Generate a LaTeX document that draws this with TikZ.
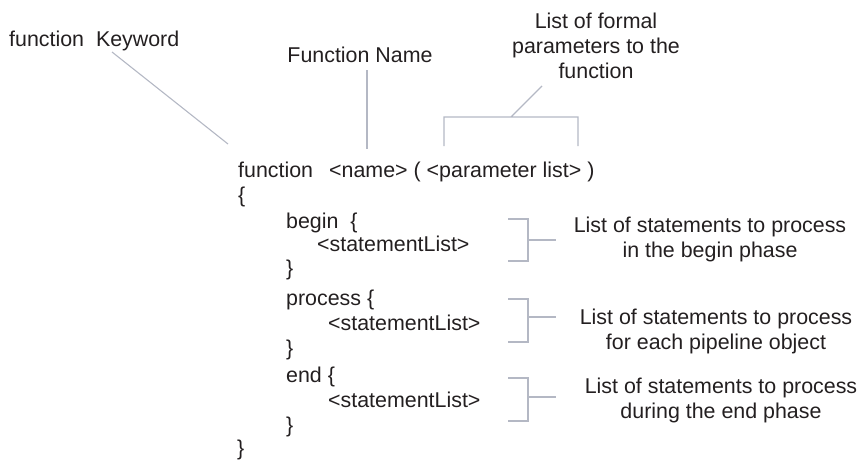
\documentclass[tikz,border=0pt]{standalone}
\usepackage{fontspec}
\setmainfont{Liberation Sans}
\definecolor{ink}{RGB}{35,31,32}
\definecolor{leader}{RGB}{180,184,196}

\begin{document}
\begin{tikzpicture}[x=1pt,y=-1pt,
		every node/.style={font=\fontsize{21.4}{25}\selectfont,text=ink,inner sep=0pt},
		lead/.style={draw=leader,line width=1.1pt}]
		\useasboundingbox (0,0) rectangle (862,461);
		% coordinates
		\coordinate (K1) at (112,52); % keyword leader
		\coordinate (K2) at (228,144);
		\coordinate (N1) at (367,70); % name leader
		\coordinate (N2) at (367,149);
		\coordinate (P1) at (444,146); % parameter bracket
		\coordinate (P2) at (578,146);
		\coordinate (P3) at (511,117);
		\coordinate (P4) at (542,86);
		% labels on top
		\node[anchor=base west] (kwlabel) at (9,46) {function~~Keyword};
		\node[anchor=base] (namelabel) at (360,62) {Function Name};
		\node[align=center] (parlabel) at (596,46) {List of formal\\parameters to the\\function};
		% code
		\node[anchor=base west] (fkw) at (238,177) {function};
		\node[anchor=base west] (fsig) at (329,177) {<name> ( <parameter list> )};
		\node[anchor=base west] (open) at (238,202) {\{};
		\node[anchor=base west] (beg) at (286,228) {begin~~\{};
		\node[anchor=base west] (begbody) at (317,251) {<statementList>};
		\node[anchor=base west] (begclose) at (286,275) {\}};
		\node[anchor=base west] (proc) at (286,305) {process \{};
		\node[anchor=base west] (procbody) at (328,330) {<statementList>};
		\node[anchor=base west] (procclose) at (286,355) {\}};
		\node[anchor=base west] (fin) at (286,382) {end \{};
		\node[anchor=base west] (finbody) at (328,407) {<statementList>};
		\node[anchor=base west] (finclose) at (286,432) {\}};
		\node[anchor=base west] (close) at (237,455) {\}};
		% labels on the right
		\node[align=center] (beglabel) at (710,239.5) {List of statements to process\\in the begin phase};
		\node[align=center] (proclabel) at (716,331) {List of statements to process\\for each pipeline object};
		\node[align=center] (finlabel) at (721,400) {List of statements to process\\during the end phase};
		% leaders
		\draw[lead] (K1) -- (K2);
		\draw[lead] (N1) -- (N2);
		\draw[lead] (P1) |- (P2 |- P3) -- (P2) (P3) -- (P4);
		% brackets for the blocks
		\foreach\ya/\yb/\ym in {219/261/240, 299/342/317, 378/421/397}
		\draw[lead] (508,\ya) -| (528,\yb) -- (508,\yb) (528,\ym) -- (556,\ym);
	\end{tikzpicture}
\end{document}
